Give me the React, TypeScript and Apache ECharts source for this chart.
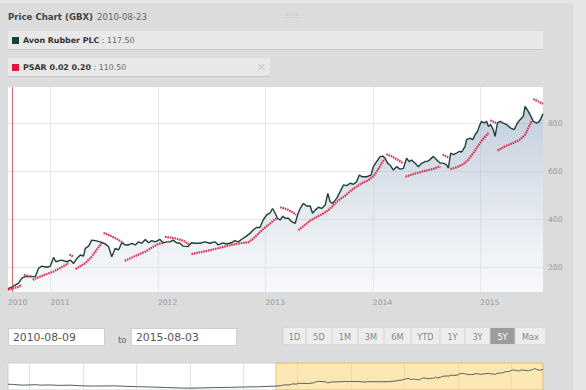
import React, { useEffect, useRef } from 'react';
import * as echarts from 'echarts';

// ---------- data ----------
const titleText = 'Price Chart (GBX)';
const titleDate = '2010-08-23';
const crosshairDate = '2010-08-23';
const fromDate = '2010-08-09';
const toDate = '2015-08-03';
const navStart = '2005-08-08';

const legendNames = ['Avon Rubber PLC', 'PSAR 0.02 0.20'];
const legendValues = ['117.50', '110.50'];

const priceDates = [
  '2010-08-09','2010-08-23','2010-09-14','2010-09-25','2010-10-07','2010-10-24','2010-11-10','2010-11-21','2010-12-02','2010-12-19','2010-12-31',
  '2011-01-11','2011-01-19','2011-01-28','2011-02-08','2011-02-25','2011-03-09','2011-03-20','2011-03-29','2011-04-12','2011-04-23','2011-04-29','2011-05-10','2011-05-21','2011-06-02','2011-06-19','2011-07-06','2011-07-17','2011-07-28','2011-08-09','2011-08-20','2011-08-31','2011-09-12','2011-09-23','2011-10-04','2011-10-16','2011-10-27','2011-11-07','2011-11-19','2011-11-30','2011-12-11','2011-12-23',
  '2012-01-08','2012-01-19','2012-01-30','2012-02-11','2012-02-22','2012-03-04','2012-03-16','2012-03-27','2012-04-13','2012-04-24','2012-05-06','2012-05-23','2012-06-09','2012-06-26','2012-07-13','2012-07-24','2012-08-10','2012-08-21','2012-09-07','2012-09-19','2012-09-30','2012-10-17','2012-10-28','2012-11-09','2012-11-20','2012-12-01','2012-12-13','2012-12-24',
  '2013-01-05','2013-01-17','2013-01-25','2013-02-03','2013-02-11','2013-02-20','2013-03-01','2013-03-09','2013-03-20','2013-03-31','2013-04-12','2013-04-20','2013-04-29','2013-05-10','2013-05-21','2013-06-02','2013-06-10','2013-06-19','2013-06-30','2013-07-11','2013-07-23','2013-08-01','2013-08-09','2013-08-17','2013-08-31','2013-09-12','2013-09-23','2013-10-04','2013-10-16','2013-10-27','2013-11-07','2013-11-16','2013-11-27','2013-12-11','2013-12-26',
  '2014-01-03','2014-01-14','2014-01-26','2014-02-04','2014-02-12','2014-02-21','2014-03-01','2014-03-12','2014-03-23','2014-04-04','2014-04-15','2014-04-26','2014-05-05','2014-05-13','2014-05-25','2014-06-05','2014-06-16','2014-06-28','2014-07-09','2014-07-26','2014-08-06','2014-08-18','2014-08-29','2014-09-09','2014-09-15','2014-09-23','2014-10-02','2014-10-13','2014-10-23','2014-10-30','2014-11-11','2014-11-16','2014-11-28','2014-12-07','2014-12-15','2014-12-23','2014-12-29',
  '2015-01-06','2015-01-15','2015-01-23','2015-01-29','2015-02-06','2015-02-15','2015-02-21','2015-03-01','2015-03-10','2015-03-21','2015-04-02','2015-04-15','2015-04-27','2015-05-06','2015-05-17','2015-05-28','2015-06-03','2015-06-11','2015-06-20','2015-07-01','2015-07-13','2015-07-22','2015-08-03',
];
const priceValues = [
  110,117.5,133,154,160,160,160,195,204,199,204,
  240,222,226,229,222,229,215,232,250,246,278,287,312,310,305,296,285,243,278,271,301,292,292,299,292,305,299,315,301,310,305,
  315,301,305,305,312,301,299,287,285,301,299,299,305,299,305,292,301,296,301,310,305,320,329,340,354,365,365,396,
  417,426,444,424,403,396,412,403,403,389,382,417,444,465,454,454,424,437,449,444,458,507,472,465,486,514,542,539,549,545,555,583,576,576,583,
  618,639,660,662,653,632,625,604,618,608,611,653,639,646,632,618,632,639,642,661,647,633,633,626,612,675,668,675,682,679,703,731,737,731,751,765,786,
  807,800,807,786,793,772,744,800,807,800,793,779,772,796,814,828,869,855,835,807,800,807,838,
];

const psarSegments: [string, number][][] = [
  [['2010-08-09',105],['2010-08-23',110.5],['2010-09-14',118],['2010-09-25',125]],
  [['2010-10-02',167],['2010-10-29',160]],
  [['2010-11-01',147],['2010-12-08',166],['2011-01-11',181],['2011-02-07',199],['2011-03-03',216]],
  [['2011-03-06',252],['2011-03-20',242]],
  [['2011-03-27',192],['2011-04-30',217],['2011-05-20',242],['2011-06-06',271],['2011-06-23',299]],
  [['2011-06-30',342],['2011-07-24',330],['2011-08-13',318],['2011-09-06',300]],
  [['2011-09-10',226],['2011-10-16',246],['2011-11-19',264],['2011-12-17',285],['2012-01-02',296],['2012-01-19',301]],
  [['2012-01-25',326],['2012-02-28',320],['2012-03-27',310],['2012-04-19',292]],
  [['2012-04-24',254],['2012-06-30',271],['2012-08-27',289],['2012-09-30',298],['2012-11-03',303],['2012-11-20',318],['2012-12-07',338],['2012-12-24',358],['2013-01-10',375],['2013-01-31',397],['2013-02-13',405]],
  [['2013-02-20',449],['2013-03-12',442],['2013-03-29',432],['2013-04-15',417]],
  [['2013-04-23',354],['2013-05-10',371],['2013-06-03',394],['2013-06-23',408],['2013-07-14',421],['2013-08-03',437],['2013-09-06',478],['2013-09-30',498],['2013-10-20',520],['2013-11-23',548],['2013-12-17',562],['2014-01-03',578],['2014-01-17',602],['2014-01-30',630],['2014-02-10',650]],
  [['2014-02-16',670],['2014-03-05',662],['2014-03-22',650],['2014-04-15',632]],
  [['2014-04-22',576],['2014-05-19',587],['2014-06-22',599],['2014-07-26',609],['2014-08-19',620]],
  [['2014-08-26',668],['2014-09-15',657]],
  [['2014-09-22',608],['2014-10-12',615],['2014-11-05',629],['2014-11-22',647],['2014-12-09',675],['2014-12-26',707],['2015-01-12',735],['2015-01-29',758]],
  [['2015-02-05',811],['2015-02-25',800]],
  [['2015-03-01',685],['2015-03-27',703],['2015-04-24',717],['2015-05-17',731],['2015-06-03',751],['2015-06-14',779],['2015-06-25',807]],
  [['2015-07-01',900],['2015-07-29',883],['2015-08-03',880]],
];

const navPreDates = ['2005-08-08','2005-09-15','2005-11-10','2006-01-05','2006-02-10','2006-03-20','2006-05-15','2006-07-20','2006-10-10','2007-01-01','2007-03-15','2007-08-01','2007-10-20','2008-01-01','2008-04-01','2008-08-01','2008-11-01','2009-01-01','2009-03-15','2009-06-15','2009-10-01','2010-01-01','2010-04-10'];
const navPreValues = [190,180,150,160,170,150,160,140,150,120,110,120,100,85,70,45,25,20,30,45,55,70,80];

const yTickValues = [200, 400, 600, 800];
const xLabelDates = ['2010-08-09','2011-01-01','2012-01-01','2013-01-01','2014-01-01','2015-01-01'];
const xGridDates = ['2011-01-01','2012-01-01','2013-01-01','2014-01-01','2015-01-01'];
const navGridDates = ['2006-01-01','2007-01-01','2008-01-01','2009-01-01','2010-01-01','2011-01-01','2012-01-01','2013-01-01','2014-01-01','2015-01-01'];

const rangeButtons = ['1D','5D','1M','3M','6M','YTD','1Y','3Y','5Y','Max'];
const selectedButton = '5Y';

// ---------- layout ----------
const W = 586, H = 390;
const PLOT_L = 8, PLOT_R = 543, PLOT_T = 87, PLOT_B = 292;
const BTN_X0 = 283;
const BTN_W = [23, 26, 26, 26, 27, 29, 25, 25, 25, 31];

const ts = (d: string) => Date.UTC(+d.slice(0, 4), +d.slice(5, 7) - 1, +d.slice(8, 10));

export default function App() {
  const ref = useRef<HTMLDivElement>(null);
  useEffect(() => {
    if (!ref.current) return;
    const chart = echarts.init(ref.current, null, { renderer: 'svg', width: W, height: H });
    const F = 'DejaVu Sans';

    const priceData = priceDates.map((d, i) => [ts(d), priceValues[i]]);
    const psarData: any[] = [];
    psarSegments.forEach((seg, i) => {
      if (i > 0) psarData.push([ts(seg[0][0]) - 1, null]);
      seg.forEach((p) => psarData.push([ts(p[0]), p[1]]));
    });
    const navData = navPreDates.map((d, i) => [ts(d), navPreValues[i]]).concat(priceData);

    const g: any[] = [];
    g.push({ type: 'rect', z: -10, silent: true, shape: { x: 0, y: 3, width: 573, height: H - 3 }, style: { fill: '#dcdcdc' } });
    g.push({ type: 'text', x: 8, y: 17, style: { text: titleText, fontFamily: F, fontWeight: 'bold', fontSize: 8.6, fill: '#444', verticalAlign: 'middle' } });
    g.push({ type: 'text', x: 97, y: 17, style: { text: titleDate, fontFamily: F, fontSize: 8.6, fill: '#666', verticalAlign: 'middle' } });
    [13.5, 15.5, 17.5].forEach((yy) => g.push({ type: 'line', silent: true, shape: { x1: 285, y1: yy, x2: 299, y2: yy }, style: { stroke: '#cdcdcd', lineWidth: 0.8 } }));
    const legendColors = ['#173f35', '#e2163c'];
    const barY = [31, 58];
    const barW = [535, 262];
    legendNames.forEach((name, i) => {
      const y0 = barY[i];
      g.push({ type: 'rect', silent: true, shape: { x: 8, y: y0, width: barW[i], height: 18 }, style: { fill: '#e8e8e8' } });
      g.push({ type: 'line', silent: true, shape: { x1: 8, y1: y0 + 18.5, x2: 8 + barW[i], y2: y0 + 18.5 }, style: { stroke: '#c6c6c6', lineWidth: 1 } });
      g.push({ type: 'rect', silent: true, shape: { x: 12, y: y0 + 6, width: 7, height: 7 }, style: { fill: legendColors[i] } });
      g.push({
        type: 'text', x: 23, y: y0 + 9.5,
        style: {
          text: `{b|${name}}{n| : ${legendValues[i]}}`, verticalAlign: 'middle',
          rich: {
            b: { fontFamily: F, fontWeight: 'bold', fontSize: 7.9, fill: '#333' },
            n: { fontFamily: F, fontSize: 7.9, fill: '#666' },
          },
        },
      });
    });
    g.push({ type: 'line', silent: true, shape: { x1: 258.5, y1: 64, x2: 264.5, y2: 70 }, style: { stroke: '#b8b8b8', lineWidth: 1 } });
    g.push({ type: 'line', silent: true, shape: { x1: 264.5, y1: 64, x2: 258.5, y2: 70 }, style: { stroke: '#b8b8b8', lineWidth: 1 } });

    const inputs = [{ x: 8.5, w: 96, t: fromDate }, { x: 131.5, w: 105, t: toDate }];
    inputs.forEach((b) => {
      g.push({ type: 'rect', silent: true, shape: { x: b.x, y: 328.5, width: b.w, height: 17 }, style: { fill: '#fff', stroke: '#cfcfcf', lineWidth: 1 } });
      g.push({ type: 'text', x: b.x + 4.5, y: 337.5, style: { text: b.t, fontFamily: F, fontSize: 10.8, fill: '#555', verticalAlign: 'middle' } });
    });
    g.push({ type: 'text', x: 118, y: 339.5, style: { text: 'to', fontFamily: F, fontSize: 8.5, fill: '#4f6d75', verticalAlign: 'middle' } });

    let bx = BTN_X0;
    g.push({ type: 'rect', silent: true, shape: { x: BTN_X0 - 0.5, y: 327.5, width: BTN_W.reduce((a, b) => a + b, 0) + 1, height: 17, r: 2 }, style: { fill: '#d2d2d2' } });
    rangeButtons.forEach((lab, i) => {
      const sel = lab === selectedButton;
      g.push({ type: 'rect', silent: true, shape: { x: bx + 0.5, y: 328, width: BTN_W[i] - 1, height: 16 }, style: { fill: sel ? '#9c9c9c' : '#ededed' } });
      g.push({ type: 'text', x: bx + BTN_W[i] / 2, y: 336.5, style: { text: lab, fontFamily: F, fontSize: 8.2, fill: sel ? '#fff' : '#888', align: 'center', verticalAlign: 'middle' } });
      bx += BTN_W[i];
    });

    const option: any = {
      animation: false,
      backgroundColor: '#e6e6e6',
      textStyle: { fontFamily: F },
      graphic: { elements: g },
      grid: [
        { left: PLOT_L, top: PLOT_T, width: PLOT_R - PLOT_L, height: PLOT_B - PLOT_T, show: true, backgroundColor: '#ffffff', borderWidth: 0 },
        { left: PLOT_L, top: 363, width: PLOT_R - PLOT_L, height: 30, show: true, backgroundColor: '#ffffff', borderColor: '#cfcfcf', borderWidth: 1 },
      ],
      xAxis: [
        {
          type: 'value', gridIndex: 0, min: ts(fromDate), max: ts(toDate),
          axisLine: { show: false },
          axisTick: { show: false, customValues: xGridDates.map(ts) },
          axisLabel: {
            customValues: xLabelDates.map(ts), color: '#999', fontSize: 7.6, align: 'left', margin: 6,
            formatter: (v: number) => String(new Date(v).getUTCFullYear()),
          },
          splitLine: { show: true, lineStyle: { color: '#e6e6e6', width: 1 } },
        },
        {
          type: 'value', gridIndex: 1, min: ts(navStart), max: ts(toDate),
          axisLine: { show: false },
          axisTick: { show: false, customValues: navGridDates.map(ts) },
          axisLabel: { show: false },
          splitLine: { show: true, lineStyle: { color: '#e2e2e2', width: 1 } },
        },
      ],
      yAxis: [
        {
          type: 'value', gridIndex: 0, position: 'right', min: 96, max: 950,
          axisLine: { show: false },
          axisTick: { show: false, customValues: yTickValues },
          axisLabel: { customValues: yTickValues, color: '#999', fontSize: 7.6, margin: 5 },
          splitLine: { show: true, lineStyle: { color: '#e6e6e6', width: 1 } },
        },
        {
          type: 'value', gridIndex: 1, min: -60, max: 1110, show: false,
          splitLine: { show: false },
        },
      ],
      series: [
        {
          type: 'line', name: legendNames[0], xAxisIndex: 0, yAxisIndex: 0,
          data: priceData, showSymbol: false, symbol: 'none',
          lineStyle: { color: '#1d4036', width: 1.4 },
          areaStyle: {
            origin: 'start',
            color: new echarts.graphic.LinearGradient(0, 0, 0, 1, [
              { offset: 0, color: 'rgba(150,168,194,0.85)' },
              { offset: 1, color: 'rgba(228,233,241,0.45)' },
            ]),
          },
          markLine: {
            silent: true, symbol: ['none', 'none'], label: { show: false },
            lineStyle: { color: 'rgba(196,70,70,0.8)', width: 1, type: 'solid' },
            data: [{ xAxis: ts(crosshairDate) }],
          },
          z: 2,
        },
        {
          type: 'line', name: legendNames[1], xAxisIndex: 0, yAxisIndex: 0,
          data: psarData, showSymbol: false, symbol: 'none', connectNulls: false,
          lineStyle: { color: '#d9304f', width: 2.2, type: [1.6, 0.8] },
          z: 3,
        },
        {
          type: 'line', xAxisIndex: 1, yAxisIndex: 1,
          data: navData, showSymbol: false, symbol: 'none',
          lineStyle: { color: '#4f5f59', width: 1 },
          markArea: {
            silent: true,
            itemStyle: { color: 'rgba(250,214,118,0.55)', borderColor: '#e4c675', borderWidth: 1 },
            data: [[{ xAxis: ts(fromDate) }, { xAxis: ts(toDate) }]],
          },
        },
      ],
    };
    chart.setOption(option);
    return () => chart.dispose();
  }, []);

  return <div ref={ref} style={{ position: 'fixed', left: 0, top: 0, width: W, height: H }} />;
}
